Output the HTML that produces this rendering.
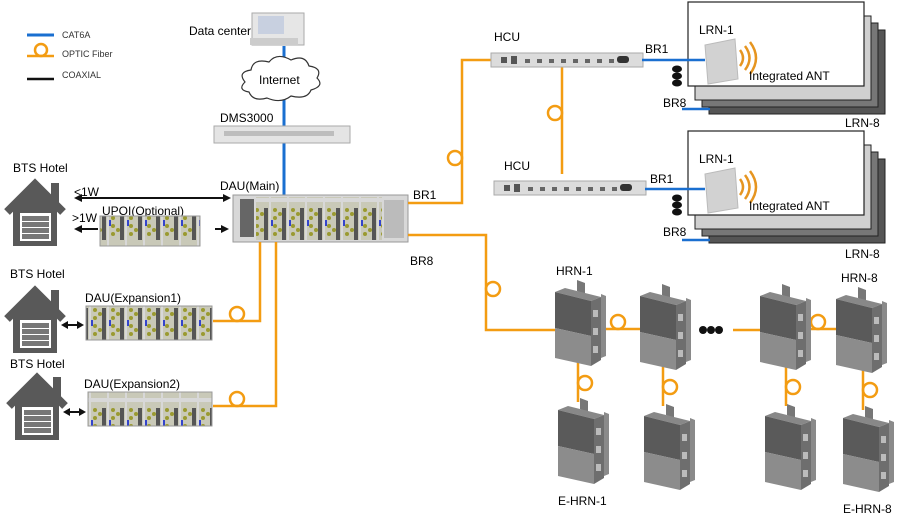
<!DOCTYPE html>
<html><head><meta charset="utf-8"><style>
html,body{margin:0;padding:0;background:#fff;}
svg{display:block;font-family:"Liberation Sans",Arial,sans-serif;}
</style></head><body>
<svg width="900" height="522" viewBox="0 0 900 522" xmlns="http://www.w3.org/2000/svg">
<defs>
 <pattern id="mods" x="0" y="0" width="18" height="50" patternUnits="userSpaceOnUse">
  <rect width="18" height="50" fill="#d8d8d8"/>
  <rect x="1" y="2" width="16" height="46" fill="#c9c9b8"/>
  <circle cx="5" cy="10" r="2" fill="#9a9a30"/><circle cx="5" cy="18" r="2" fill="#9a9a30"/>
  <circle cx="5" cy="26" r="2" fill="#9a9a30"/><circle cx="5" cy="34" r="2" fill="#9a9a30"/>
  <circle cx="10" cy="14" r="2" fill="#9a9a30"/><circle cx="10" cy="30" r="2" fill="#9a9a30"/>
  <rect x="12" y="8" width="4" height="32" fill="#555"/>
  <rect x="1" y="20" width="2" height="6" fill="#3344cc"/>
 </pattern>
 <g id="house">
  <polyline points="4,34 32,6 60,34" fill="none" stroke="#595959" stroke-width="8"/>
  <rect x="48" y="5" width="8" height="20" fill="#595959"/>
  <path d="M10,30 L32,10 L54,30 L54,68 L10,68 Z" fill="#595959"/>
  <rect x="17" y="35" width="31" height="28" fill="#fff"/>
  <rect x="19" y="38" width="27" height="5" fill="#777"/><rect x="19" y="44" width="27" height="5" fill="#777"/>
  <rect x="19" y="50" width="27" height="5" fill="#777"/><rect x="19" y="56" width="27" height="5" fill="#777"/>
 </g>
 <g id="hrn">
  <polygon points="22,0 30,3 30,14 22,11" fill="#777"/>
  <polygon points="0,12 10,8 46,17 36,21" fill="#888"/>
  <polygon points="0,12 36,21 36,56 0,48" fill="#5a5a5a"/>
  <polygon points="0,48 36,56 36,86 0,78" fill="#8c8c8c"/>
  <polygon points="36,21 46,17 46,80 36,86" fill="#6e6e6e"/>
  <polygon points="46,14 51,16 51,76 46,78" fill="#8a8a8a"/>
  <rect x="38" y="30" width="5" height="7" fill="#bbb"/><rect x="38" y="48" width="5" height="7" fill="#bbb"/><rect x="38" y="66" width="5" height="7" fill="#bbb"/>
 </g>
 <g id="loopH"><circle cx="0" cy="-7" r="7" fill="none" stroke="#f39c12" stroke-width="2.5"/></g>
 <g id="hcu">
  <rect x="0" y="0" width="152" height="14" fill="#dcdcdc" stroke="#aaa"/>
  <rect x="10" y="4" width="6" height="6" fill="#555"/><rect x="20" y="3" width="6" height="8" fill="#555"/>
  <g fill="#666"><rect x="34" y="6" width="5" height="4"/><rect x="46" y="6" width="5" height="4"/><rect x="58" y="6" width="5" height="4"/><rect x="70" y="6" width="5" height="4"/><rect x="82" y="6" width="5" height="4"/><rect x="94" y="6" width="5" height="4"/><rect x="106" y="6" width="5" height="4"/><rect x="118" y="6" width="5" height="4"/></g>
  <rect x="126" y="3" width="12" height="7" rx="3" fill="#333"/>
 </g>
 <g id="lrn">
  <rect x="21" y="28" width="176" height="84" fill="#555" stroke="#222"/>
  <rect x="14" y="21" width="176" height="84" fill="#777" stroke="#222"/>
  <rect x="7" y="14" width="176" height="84" fill="#d0d0d0" stroke="#222"/>
  <rect x="0" y="0" width="176" height="84" fill="#fff" stroke="#222" stroke-width="1.2"/>
  <polygon points="17,43 47,37 50,77 20,82" fill="#d2d2d2" stroke="#bbb"/>
  <path d="M52,48 q6,8 0,16 M57,44 q9,12 0,24 M62,40 q12,16 0,32" fill="none" stroke="#e69520" stroke-width="2.5"/>
 </g>
</defs>

<!-- legend -->
<line x1="27" y1="35" x2="54" y2="35" stroke="#1a6fd0" stroke-width="3"/>
<text x="62" y="38" font-size="9" fill="#333">CAT6A</text>
<line x1="27" y1="56" x2="54" y2="56" stroke="#f39c12" stroke-width="2.5"/>
<circle cx="41" cy="50" r="6" fill="none" stroke="#f39c12" stroke-width="2.5"/>
<text x="62" y="57" font-size="9" fill="#333">OPTIC  Fiber</text>
<line x1="27" y1="79" x2="54" y2="79" stroke="#111" stroke-width="2.5"/>
<text x="62" y="78" font-size="9" fill="#333">COAXIAL</text>

<!-- blue vertical -->
<line x1="284" y1="46" x2="284" y2="196" stroke="#1a6fd0" stroke-width="3"/>
<!-- data center computer -->
<rect x="252" y="13" width="52" height="32" fill="#e6e6e6" stroke="#aaa"/>
<rect x="258" y="16" width="26" height="18" fill="#c8d0e0"/>
<rect x="250" y="38" width="48" height="7" fill="#ccc"/>
<text x="189" y="35" font-size="12">Data center</text>
<!-- cloud -->
<path d="M245,82 q-8,-10 6,-12 q2,-12 18,-8 q8,-10 22,-2 q14,-6 18,6 q14,2 8,12 q8,8 -6,12 q-4,10 -20,6 q-10,8 -24,2 q-14,4 -18,-6 q-12,-2 -4,-10 z" fill="#fff" stroke="#333" stroke-width="1.2"/>
<text x="259" y="84" font-size="12">Internet</text>
<!-- DMS -->
<text x="220" y="122" font-size="12">DMS3000</text>
<rect x="214" y="126" width="136" height="17" fill="#e4e4e4" stroke="#aaa"/>
<rect x="224" y="131" width="110" height="5" fill="#bdbdbd"/>

<!-- DAU main -->
<text x="220" y="190" font-size="12">DAU(Main)</text>
<rect x="233" y="195" width="175" height="47" fill="#d8d8d8" stroke="#999"/>
<rect x="256" y="197" width="126" height="43" fill="url(#mods)"/>
<rect x="240" y="199" width="14" height="38" fill="#666"/>
<rect x="384" y="200" width="20" height="38" fill="#bbb"/>

<!-- BTS hotels -->
<text x="13" y="172" font-size="12">BTS Hotel</text>
<use href="#house" x="3" y="178"/>
<text x="10" y="278" font-size="12">BTS Hotel</text>
<use href="#house" x="3" y="285"/>
<text x="10" y="368" font-size="12">BTS Hotel</text>
<use href="#house" x="5" y="372"/>

<!-- arrows -->
<text x="74" y="196" font-size="12">&lt;1W</text>
<line x1="80" y1="198" x2="225" y2="198" stroke="#111" stroke-width="2"/>
<polygon points="74,198 82,194 82,202" fill="#111"/><polygon points="231,198 223,194 223,202" fill="#111"/>
<text x="72" y="222" font-size="12">&gt;1W</text>
<line x1="80" y1="229" x2="98" y2="229" stroke="#111" stroke-width="2"/>
<polygon points="74,229 82,225 82,233" fill="#111"/>
<line x1="215" y1="229" x2="224" y2="229" stroke="#111" stroke-width="2"/>
<polygon points="229,229 221,225 221,233" fill="#111"/>
<text x="102" y="215" font-size="12">UPOI(Optional)</text>
<rect x="100" y="216" width="100" height="30" fill="url(#mods)" stroke="#999"/>

<text x="85" y="302" font-size="12">DAU(Expansion1)</text>
<rect x="86" y="306" width="126" height="34" fill="url(#mods)" stroke="#999"/>
<line x1="66" y1="325" x2="80" y2="325" stroke="#111" stroke-width="2"/>
<polygon points="61,325 68,321 68,329" fill="#111"/><polygon points="84,325 77,321 77,329" fill="#111"/>
<text x="84" y="388" font-size="12">DAU(Expansion2)</text>
<rect x="88" y="392" width="124" height="34" fill="url(#mods)" stroke="#999"/>
<line x1="68" y1="412" x2="82" y2="412" stroke="#111" stroke-width="2"/>
<polygon points="63,412 70,408 70,416" fill="#111"/><polygon points="86,412 79,408 79,416" fill="#111"/>

<!-- orange lines left -->
<g stroke="#f39c12" stroke-width="2.5" fill="none">
 <polyline points="260,242 260,321 213,321"/>
 <polyline points="276,242 276,406 213,406"/>
 <circle cx="237" cy="314" r="7"/><circle cx="237" cy="399" r="7"/>
 <polyline points="408,203 462,203 462,60 492,60"/>
 <circle cx="455" cy="158" r="7"/>
 <polyline points="408,235 486,235 486,330 555,330"/>
 <circle cx="493" cy="289" r="7"/>
 <line x1="562" y1="67" x2="562" y2="174"/>
 <circle cx="555" cy="113" r="7"/>
 <line x1="600" y1="329" x2="642" y2="329"/><circle cx="618" cy="322" r="7"/>
 <line x1="733" y1="330" x2="762" y2="330"/>
 <line x1="803" y1="329" x2="838" y2="329"/><circle cx="818" cy="322" r="7"/>
 <line x1="578" y1="358" x2="578" y2="402"/><circle cx="585" cy="383" r="7"/>
 <line x1="663" y1="362" x2="663" y2="406"/><circle cx="670" cy="387" r="7"/>
 <line x1="786" y1="362" x2="786" y2="406"/><circle cx="793" cy="387" r="7"/>
 <line x1="863" y1="366" x2="863" y2="410"/><circle cx="870" cy="390" r="7"/>
</g>
<text x="413" y="199" font-size="12">BR1</text>
<text x="410" y="265" font-size="12">BR8</text>

<!-- HCU -->
<text x="494" y="41" font-size="12">HCU</text>
<use href="#hcu" x="491" y="53"/>
<text x="504" y="170" font-size="12">HCU</text>
<use href="#hcu" x="494" y="181"/>

<!-- LRN stacks -->
<use href="#lrn" x="688" y="2"/>
<use href="#lrn" x="688" y="131"/>
<text x="699" y="34" font-size="12">LRN-1</text>
<text x="749" y="80" font-size="12">Integrated ANT</text>
<text x="845" y="127" font-size="12">LRN-8</text>
<text x="699" y="163" font-size="12">LRN-1</text>
<text x="749" y="210" font-size="12">Integrated ANT</text>
<text x="845" y="258" font-size="12">LRN-8</text>
<g stroke="#1a6fd0" stroke-width="2.5">
 <line x1="642" y1="60" x2="705" y2="60"/><line x1="682" y1="109" x2="710" y2="109"/>
 <line x1="645" y1="189" x2="705" y2="189"/><line x1="682" y1="240" x2="710" y2="240"/>
</g>
<text x="645" y="53" font-size="12">BR1</text>
<text x="663" y="107" font-size="12">BR8</text>
<text x="650" y="183" font-size="12">BR1</text>
<text x="663" y="236" font-size="12">BR8</text>
<g fill="#111">
 <ellipse cx="677" cy="69" rx="5" ry="3.5"/><ellipse cx="677" cy="76" rx="5" ry="3.5"/><ellipse cx="677" cy="83" rx="5" ry="3.5"/>
 <ellipse cx="677" cy="198" rx="5" ry="3.5"/><ellipse cx="677" cy="205" rx="5" ry="3.5"/><ellipse cx="677" cy="212" rx="5" ry="3.5"/>
 <circle cx="703" cy="330" r="4"/><circle cx="711" cy="330" r="4"/><circle cx="719" cy="330" r="4"/>
</g>

<!-- HRN -->
<text x="556" y="275" font-size="12">HRN-1</text>
<text x="841" y="282" font-size="12">HRN-8</text>
<use href="#hrn" x="555" y="280"/>
<use href="#hrn" x="640" y="284"/>
<use href="#hrn" x="760" y="284"/>
<use href="#hrn" x="836" y="287"/>
<use href="#hrn" x="558" y="398"/>
<use href="#hrn" x="644" y="404"/>
<use href="#hrn" x="765" y="404"/>
<use href="#hrn" x="843" y="406"/>
<text x="558" y="505" font-size="12">E-HRN-1</text>
<text x="843" y="513" font-size="12">E-HRN-8</text>
</svg>
</body></html>
